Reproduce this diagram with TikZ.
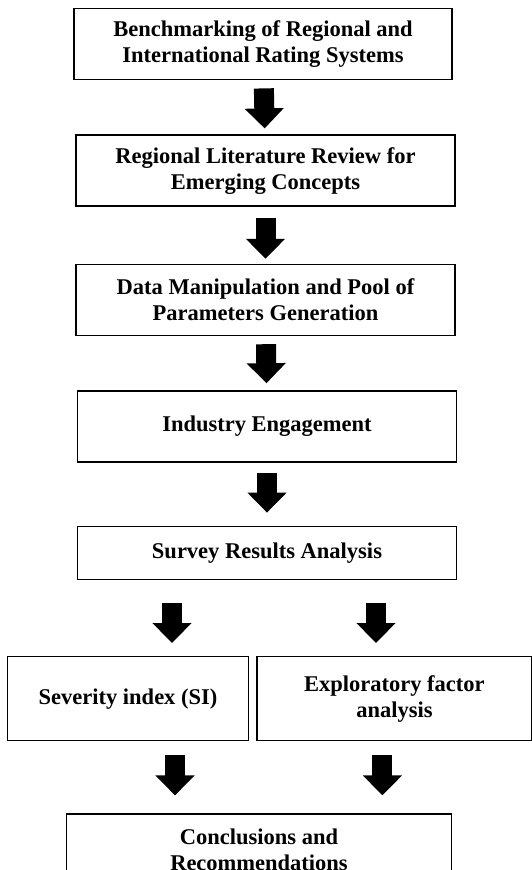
\documentclass[tikz,border=0pt]{standalone}
\usepackage{fontspec}
\setmainfont{Liberation Serif}
\usetikzlibrary{positioning, arrows.meta}

\begin{document}
\begin{tikzpicture}[
    stage/.style={rectangle, draw=black, line width=1.4pt, minimum width=379pt,
      minimum height=71pt, align=center, inner sep=2pt,
      font=\bfseries\fontsize{22.5}{26}\selectfont},
    arrow/.style={line width=20pt, -{Triangle[width=38pt, length=20pt]},
      shorten <=8pt, shorten >=6pt}
  ]
    \useasboundingbox (0pt,0pt) rectangle (532pt,-870pt);
    \node[stage, anchor=north, minimum width=378pt] (bench) at (263pt,-8pt)
      {Benchmarking of Regional and \\ International Rating Systems};
    \node[stage, below=54pt of bench, xshift=2.5pt] (lit)
      {Regional Literature Review for \\ Emerging Concepts};
    \node[stage, below=57pt of lit] (data)
      {Data Manipulation and Pool of \\ Parameters Generation};
    \node[stage, below=54pt of data, xshift=1.5pt] (industry) {Industry Engagement};
    \node[stage, below=63pt of industry, minimum height=53pt] (survey)
      {Survey Results Analysis};
    % two analysis branches
    \node[stage, below=76pt of survey, xshift=-139pt, minimum width=241pt,
      minimum height=84pt] (si) {Severity index (SI)};
    \node[stage, right=7pt of si, minimum width=275pt, minimum height=84pt] (efa)
      {Exploratory factor \\ analysis};
    \node[stage, below=72pt of si, xshift=131pt, minimum width=385pt,
      minimum height=72pt] (concl) {Conclusions and \\ Recommendations};

    \draw[arrow] (bench) -- (lit);
    \draw[arrow, shorten <=11pt, shorten >=5pt] (lit) -- (data);
    \draw[arrow, shorten >=7pt] (data) -- (industry);
    \draw[arrow, shorten <=10pt, shorten >=13pt] (industry) -- (survey);
    \draw[arrow, shorten <=23pt, shorten >=13pt]
      ([xshift=-95pt]survey.south) -- ([xshift=-95pt]survey.south |- si.north);
    \draw[arrow, shorten <=23pt, shorten >=13pt]
      ([xshift=109pt]survey.south) -- ([xshift=109pt]survey.south |- efa.north);
    \draw[arrow, shorten <=14pt, shorten >=18pt]
      ([xshift=47pt]si.south) -- ([xshift=47pt]si.south |- concl.north);
    \draw[arrow, shorten <=14pt, shorten >=18pt]
      ([xshift=-12pt]efa.south) -- ([xshift=-12pt]efa.south |- concl.north);
  \end{tikzpicture}
\end{document}
